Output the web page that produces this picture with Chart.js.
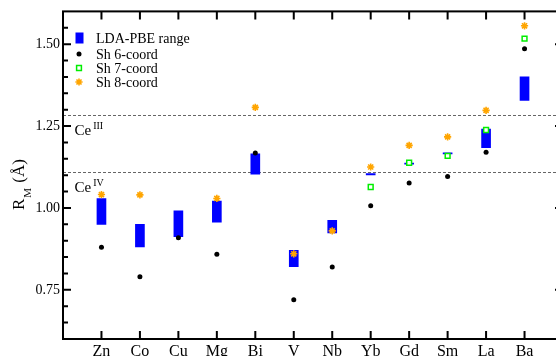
<!DOCTYPE html>
<html>
<head>
<meta charset="utf-8">
<script src="https://cdn.jsdelivr.net/npm/chart.js@4.4.1/dist/chart.umd.min.js"></script>
<style>
html,body{margin:0;padding:0;overflow:hidden;background:#fff;}
#wrap{width:575px;height:370px;}
</style>
</head>
<body>
<div id="wrap"><canvas id="c" width="575" height="370"></canvas></div>
<script>
// ---- data ----
const categories = ['Zn','Co','Cu','Mg','Bi','V','Nb','Yb','Gd','Sm','La','Ba'];
const rangeLow  = [0.950,0.881,0.912,0.957,1.103,0.821,0.924,1.101,1.134,1.165,1.184,1.328];
const rangeHigh = [1.029,0.950,0.991,1.021,1.165,0.871,0.962,1.105,1.137,1.168,1.241,1.400];
const sh6 = [0.880,0.790,0.909,0.859,1.168,0.720,0.820,1.007,1.076,1.096,1.170,1.486];
const sh7 = [null,null,null,null,null,null,null,1.064,1.138,1.159,1.238,1.517];
const sh8 = [1.041,1.040,null,1.029,1.307,0.860,0.930,1.125,1.191,1.217,1.298,1.556];
const yTickLabels = [0.75,1.00,1.25,1.50];
const refLines = [1.283,1.109];
const refSup = ['III','IV'];
const seriesNames = ['LDA-PBE range','Sh 6-coord','Sh 7-coord','Sh 8-coord'];

const FONT = "'Liberation Serif', 'DejaVu Serif', serif";
const pad = a => [null, ...a, null];
const labels = ['', ...categories, ''];

const BLUE = '#0000ff', GREEN = '#00ee00', ORANGE = '#ffa500';

const decor = {
  id: 'decor',
  beforeDatasetsDraw(chart) {
    const {ctx, chartArea: a, scales: {y}} = chart;
    ctx.save();
    ctx.strokeStyle = '#666';
    ctx.lineWidth = 1;
    ctx.setLineDash([3, 2]);
    refLines.forEach(v => {
      const py = Math.round(y.getPixelForValue(v)) + 0.5;
      ctx.beginPath(); ctx.moveTo(a.left, py); ctx.lineTo(a.right, py); ctx.stroke();
    });
    ctx.restore();
  },
  afterDraw(chart) {
    const {ctx, chartArea: a, scales: {x, y}} = chart;
    ctx.save();
    ctx.strokeStyle = '#000';
    ctx.lineWidth = 2;
    ctx.setLineDash([]);
    ctx.strokeRect(a.left, a.top, a.right - a.left, a.bottom - a.top);
    // y ticks (major every 0.25, minor every 0.05)
    for (let k = 13; k <= 31; k++) {
      const v = k * 0.05;
      const py = y.getPixelForValue(v);
      const len = (k % 5 === 0) ? 8 : 5;
      ctx.beginPath();
      ctx.moveTo(a.left, py); ctx.lineTo(a.left + len, py);
      ctx.moveTo(a.right, py); ctx.lineTo(a.right - len, py);
      ctx.stroke();
    }
    // x ticks
    for (let i = 1; i <= categories.length; i++) {
      const px = x.getPixelForTick(i);
      ctx.beginPath();
      ctx.moveTo(px, a.bottom); ctx.lineTo(px, a.bottom - 8);
      ctx.moveTo(px, a.top); ctx.lineTo(px, a.top + 8);
      ctx.stroke();
    }
    // reference labels
    ctx.fillStyle = '#000';
    ctx.textBaseline = 'alphabetic';
    ctx.textAlign = 'left';
    refLines.forEach((v, i) => {
      const py = y.getPixelForValue(v);
      const base = py + 20;
      ctx.font = '15px ' + FONT;
      ctx.fillText('Ce', 74.5, base);
      const w = ctx.measureText('Ce').width;
      ctx.font = '10px ' + FONT;
      ctx.fillText(refSup[i], 74.5 + w + 2, base - 6);
    });
    // legend
    const lx = 79, tx = 96, rows = [38, 54, 68, 82];
    ctx.fillStyle = BLUE;
    ctx.fillRect(75.5, 32.5, 8, 11);
    const ds = chart.data.datasets;
    for (let i = 1; i <= 3; i++) {
      const d = ds[i];
      ctx.fillStyle = d.pointBackgroundColor;
      ctx.strokeStyle = d.pointBorderColor;
      ctx.lineWidth = d.pointBorderWidth;
      Chart.helpers.drawPoint(ctx, {pointStyle: d.pointStyle, radius: d.pointRadius, borderWidth: d.pointBorderWidth, rotation: 0}, lx, rows[i]);
    }
    ctx.fillStyle = '#000';
    ctx.font = '14px ' + FONT;
    ctx.textBaseline = 'middle';
    seriesNames.forEach((n, i) => ctx.fillText(n, tx, rows[i] + 1));
    // y title
    ctx.save();
    ctx.translate(23.5, 210);
    ctx.rotate(-Math.PI / 2);
    ctx.textBaseline = 'alphabetic';
    ctx.font = '17px ' + FONT;
    ctx.fillText('R', 0, 0);
    let off = ctx.measureText('R').width + 1;
    ctx.font = '11px ' + FONT;
    ctx.fillText('M', off, 7);
    off += ctx.measureText('M').width + 1;
    ctx.font = '17px ' + FONT;
    ctx.fillText(' (Å)', off, 0);
    ctx.restore();
    ctx.restore();
  }
};

new Chart(document.getElementById('c'), {
  type: 'bar',
  data: {
    labels: labels,
    datasets: [
      {
        type: 'bar', label: seriesNames[0],
        data: pad(rangeLow.map((lo, i) => [lo, rangeHigh[i]])),
        backgroundColor: BLUE, borderWidth: 0, barThickness: 9, order: 10
      },
      {
        type: 'line', label: seriesNames[1], data: pad(sh6), showLine: false,
        pointStyle: 'circle', pointRadius: 2.5, pointBorderWidth: 0,
        pointBackgroundColor: '#000', pointBorderColor: '#000', order: 3
      },
      {
        type: 'line', label: seriesNames[2], data: pad(sh7), showLine: false,
        pointStyle: 'rect', pointRadius: 3.4, pointBorderWidth: 1.5,
        pointBackgroundColor: '#ffffff', pointBorderColor: GREEN, order: 2
      },
      {
        type: 'line', label: seriesNames[3], data: pad(sh8), showLine: false,
        pointStyle: 'star', pointRadius: 3.6, pointBorderWidth: 1.6,
        pointBackgroundColor: ORANGE, pointBorderColor: ORANGE, order: 1
      }
    ]
  },
  options: {
    responsive: false,
    animation: false,
    devicePixelRatio: 1,
    layout: {padding: {top: 10, left: 0, right: 12, bottom: 0}},
    plugins: {legend: {display: false}, tooltip: {enabled: false}},
    scales: {
      x: {
        type: 'category', offset: false,
        grid: {display: false, drawTicks: false},
        border: {display: false},
        ticks: {autoSkip: false, maxRotation: 0, padding: 3, color: '#000', font: {family: FONT, size: 16}},
        afterFit: s => { s.height = 31; }
      },
      y: {
        type: 'linear', min: 0.6, max: 1.6,
        grid: {display: false, drawTicks: false},
        border: {display: false},
        ticks: {
          stepSize: 0.05, autoSkip: false, padding: 3, color: '#000',
          font: {family: FONT, size: 14},
          callback: v => yTickLabels.some(t => Math.abs(t - v) < 1e-6) ? Number(v).toFixed(2) : ''
        },
        afterFit: s => { s.width = 63; }
      }
    }
  },
  plugins: [decor]
});
</script>
</body>
</html>
